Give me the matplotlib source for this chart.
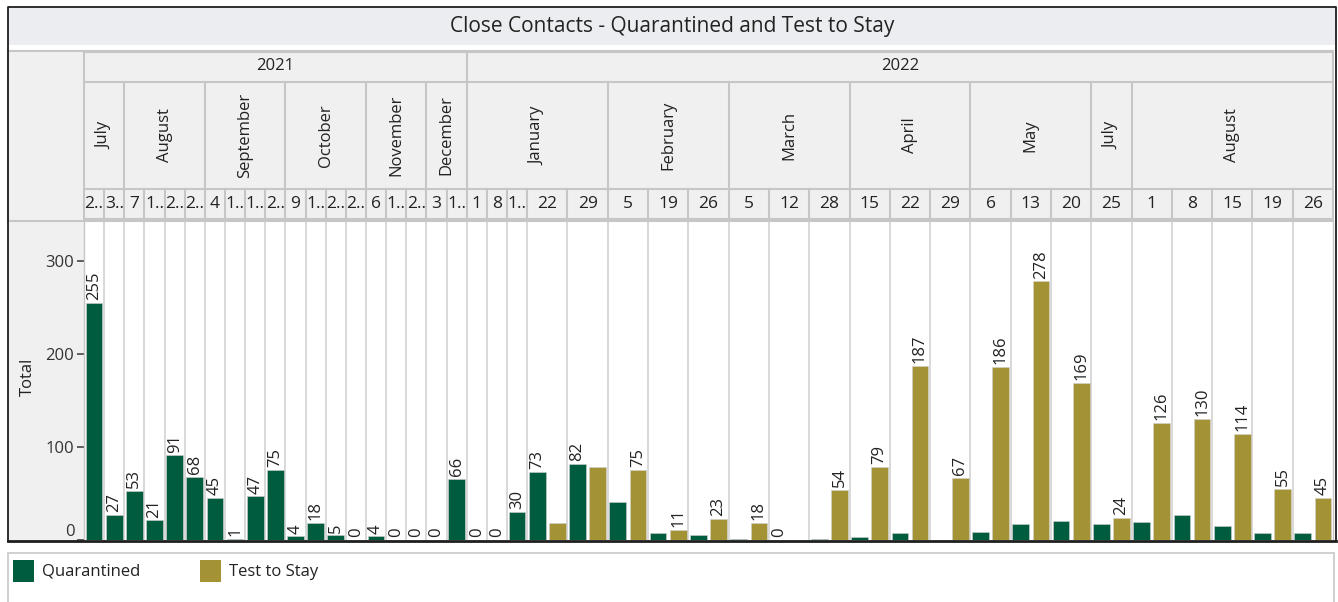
import matplotlib
matplotlib.use("Agg")
import matplotlib.pyplot as plt
from matplotlib.patches import Rectangle
from matplotlib.lines import Line2D
import numpy as np

plt.rcParams['font.family'] = ['Open Sans', 'DejaVu Sans']

# ---------------- data ----------------
title = "Close Contacts - Quarantined and Test to Stay"
series_names = ["Quarantined", "Test to Stay"]
y_label = "Total"

week_days = ["2..", "3..", "7", "1..", "2..", "2..", "4", "1..", "1..", "2..",
             "9", "1..", "2..", "2..", "6", "1..", "2..", "3", "1..",
             "1", "8", "1..", "22", "29", "5", "19", "26", "5", "12", "28",
             "15", "22", "29", "6", "13", "20", "25", "1", "8", "15", "19", "26"]
week_months = (["July"] * 2 + ["August"] * 4 + ["September"] * 4 + ["October"] * 4 +
               ["November"] * 3 + ["December"] * 2 +
               ["January"] * 5 + ["February"] * 3 + ["March"] * 3 + ["April"] * 3 +
               ["May"] * 3 + ["July"] * 1 + ["August"] * 5)
week_years = ["2021"] * 19 + ["2022"] * 23

quarantined = [255, 27, 53, 21, 91, 68, 45, 1, 47, 75, 4, 18, 5, 0, 4, 0, 0, 0, 66,
               0, 0, 30, 73, 82, 41, 8, 5, 1, 0, 1, 3, 7, 0, 9, 17, 20, 17, 19, 27, 15, 7, 7]
test_to_stay = [None] * 19 + [None, None, None, 18, 79, 75, 11, 23, 18, 0, 54,
                              79, 187, 67, 186, 278, 169, 24, 126, 130, 114, 55, 45]

y_ticks = [0, 100, 200, 300]

# ---------------- style ----------------
GREEN = "#005C3E"
GOLD = "#A39335"
HEAD_BG = "#F0F0F0"
HEAD_LINE = "#C6C6C6"
GRID = "#D8D8D8"
TXT = "#222222"

W, H = 1338, 602
fig = plt.figure(figsize=(W / 100, H / 100), dpi=100)
fig.patch.set_facecolor("white")


def box(l, t, r, b):
    return [l / W, 1 - b / H, (r - l) / W, (b - t) / H]


def fx(x):
    return x / W


def fy(y):
    return 1 - y / H


# slots per week: one slot per series present
nslots = np.array([1 if t is None else 2 for t in test_to_stay])
starts = np.concatenate([[0], np.cumsum(nslots)[:-1]])
ends = starts + nslots
total = int(ends[-1])

# left gray column (behind everything)
fig.patches.append(Rectangle((fx(8), fy(541)), fx(84) - fx(8), fy(51) - fy(541),
                             transform=fig.transFigure, facecolor=HEAD_BG,
                             edgecolor="none", zorder=-5))

# ---------------- title band ----------------
tax = fig.add_axes(box(8, 8, 1336, 45))
tax.set_facecolor("#ECEDF0")
tax.set_xticks([]); tax.set_yticks([])
for s in tax.spines.values():
    s.set_visible(False)
tax.text(0.5, 0.5, title, ha="center", va="center", fontsize=15, color=TXT,
         transform=tax.transAxes)

# ---------------- main plot ----------------
ax = fig.add_axes(box(84, 221, 1333, 540))
ax.set_xlim(0, total)
ax.set_ylim(0, 343)
bw = 0.83
qx = starts + 0.5
bq = ax.bar(qx, quarantined, width=bw, color=GREEN, edgecolor="#d0d0d0",
            linewidth=0.4, zorder=3)
t_idx = [i for i, t in enumerate(test_to_stay) if t is not None]
tx = starts[t_idx] + 1.5
bt = ax.bar(tx, [test_to_stay[i] for i in t_idx], width=bw, color=GOLD,
            edgecolor="#d0d0d0", linewidth=0.4, zorder=3)

for e in ends[:-1]:
    ax.axvline(e, color=GRID, lw=1.4, zorder=1)

for i in range(len(quarantined)):
    q = quarantined[i]
    t = test_to_stay[i]
    if t is None or q >= t:
        x, v = qx[i], q
    else:
        x, v = starts[i] + 1.5, t
    ax.annotate(str(v), (x, v), xytext=(0, 2), textcoords="offset points",
                rotation=90, ha="center", va="bottom", fontsize=12, color=TXT,
                zorder=4)

ax.set_xticks([])
ax.set_yticks(y_ticks)
ax.tick_params(axis="y", length=5, width=1.2, color="#444444", labelsize=12,
               labelcolor="#333333", pad=2)
ax.get_yticklabels()[0].set_va("bottom")
for s in ["top", "right", "left", "bottom"]:
    ax.spines[s].set_visible(False)
fig.text(fx(28), fy(377), y_label, rotation=90, ha="center", va="center",
         fontsize=12, color=TXT)

# ---------------- header table ----------------
hx = fig.add_axes(box(84, 51, 1333, 220))
hx.set_xlim(0, total)
hx.set_ylim(169, 0)
hx.set_facecolor(HEAD_BG)
hx.set_xticks([]); hx.set_yticks([])
for s in hx.spines.values():
    s.set_visible(False)
Y_YEAR, Y_MON = 31, 138
hx.axhline(Y_YEAR, color=HEAD_LINE, lw=1.5)
hx.axhline(Y_MON, color=HEAD_LINE, lw=1.5)
hx.axhline(0.5, color=HEAD_LINE, lw=1.5)
hx.axhline(168.5, color=HEAD_LINE, lw=1.5)

# day row
for i, d in enumerate(week_days):
    hx.text((starts[i] + ends[i]) / 2, (Y_MON + 169) / 2, d, ha="center",
            va="center", fontsize=12.5, color=TXT)
    if i > 0:
        hx.plot([starts[i]] * 2, [Y_MON, 169], color=HEAD_LINE, lw=1.5)


def groups(labels):
    out = []
    cur = None
    for i, lab in enumerate(labels):
        key = (week_years[i], lab)
        if cur is None or cur[0] != key:
            cur = [key, i, i]
            out.append(cur)
        else:
            cur[2] = i
    return out


for key, a, b in groups(week_months):
    x0, x1 = starts[a], ends[b]
    hx.text((x0 + x1) / 2, (Y_YEAR + Y_MON) / 2, key[1], rotation=90,
            ha="center", va="center", fontsize=12, color=TXT)
    if a > 0:
        hx.plot([x0] * 2, [Y_YEAR, Y_MON], color=HEAD_LINE, lw=1.5)

year_groups = []
for i, yv in enumerate(week_years):
    if not year_groups or year_groups[-1][0] != yv:
        year_groups.append([yv, i, i])
    else:
        year_groups[-1][2] = i
for yv, a, b in year_groups:
    x0, x1 = starts[a], ends[b]
    hx.text((x0 + x1) / 2, Y_YEAR / 2, yv, ha="center", va="center",
            fontsize=12, color=TXT)
    if a > 0:
        hx.plot([x0] * 2, [0, Y_YEAR], color=HEAD_LINE, lw=1.5)

# header borders / left header cell
for xx in [8, 84, 1333]:
    fig.add_artist(Line2D([fx(xx), fx(xx)], [fy(51), fy(221)], color=HEAD_LINE,
                          lw=1.5, transform=fig.transFigure))
for yy in [51, 221]:
    fig.add_artist(Line2D([fx(8), fx(1333)], [fy(yy), fy(yy)], color=HEAD_LINE,
                          lw=1.5, transform=fig.transFigure))
fig.add_artist(Line2D([fx(84), fx(84)], [fy(221), fy(540)], color=HEAD_LINE,
                      lw=1.0, transform=fig.transFigure))
fig.add_artist(Line2D([fx(1333), fx(1333)], [fy(221), fy(540)], color=HEAD_LINE,
                      lw=1.0, transform=fig.transFigure))

# outer dark frame
fig.add_artist(Line2D([fx(8), fx(8), fx(1336), fx(1336)],
                      [fy(541), fy(7), fy(7), fy(541)], color="#1E1E1E", lw=1.3,
                      transform=fig.transFigure))
fig.add_artist(Line2D([fx(8), fx(1336)], [fy(541), fy(541)], color="#1E1E1E",
                      lw=2.0, transform=fig.transFigure))

# ---------------- legend ----------------
fig.patches.append(Rectangle((fx(8), fy(603)), fx(1334) - fx(8), fy(553) - fy(603),
                             transform=fig.transFigure, facecolor="white",
                             edgecolor="#C8C8C8", lw=1.2, zorder=-5))
for (x0, name, col) in [(13, series_names[0], GREEN), (200, series_names[1], GOLD)]:
    fig.patches.append(Rectangle((fx(x0), fy(582)), fx(x0 + 21) - fx(x0),
                                 fy(560) - fy(582), transform=fig.transFigure,
                                 facecolor=col, edgecolor="none"))
    fig.text(fx(x0 + 29), fy(572), name, ha="left", va="center", fontsize=12,
             color=TXT)

fig.savefig("out.png", dpi=100)
